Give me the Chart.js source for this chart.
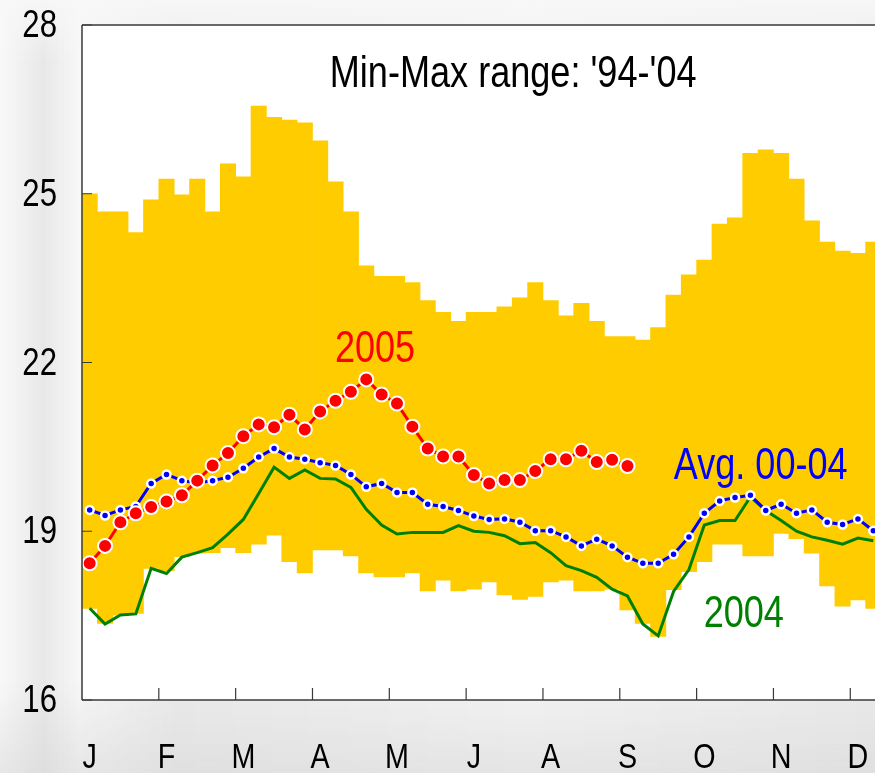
<!DOCTYPE html>
<html>
<head>
<meta charset="utf-8">
<script src="https://cdn.jsdelivr.net/npm/chart.js@4.4.1/dist/chart.umd.min.js"></script>
<style>
  html, body { margin: 0; padding: 0; overflow: hidden; width: 875px; height: 773px; }
  body {
    background-color: #ebebeb;
    background-image:
      linear-gradient(180deg, rgba(248,248,248,0.9) 0%, rgba(248,248,248,0) 8%, rgba(255,255,255,0) 88%, rgba(210,210,210,0.45) 100%),
      linear-gradient(90deg, rgba(255,255,255,0.7) 0%, rgba(225,225,225,0.3) 5%, rgba(255,255,255,0.6) 9%, rgba(240,240,240,0) 20%, rgba(255,255,255,0.45) 60%, rgba(235,235,235,0) 100%);
  }
  #wrap { position: absolute; left: 0; top: 0; width: 900px; height: 773px; }
</style>
</head>
<body>
<div id="wrap"><canvas id="c" width="900" height="773"></canvas></div>
<script>
// ---- data ----
const weeks = Array.from({length: 52}, (_, i) => 'W' + (i + 1));
const monthLabels = ['J', 'F', 'M', 'A', 'M', 'J', 'A', 'S', 'O', 'N', 'D'];
const yTicks = [16, 19, 22, 25, 28];

const rangeMin = [17.63, 17.36, 17.51, 17.54, 18.34, 18.30, 18.55, 18.61, 18.62, 18.71,
                  18.62, 18.77, 18.93, 18.46, 18.26, 18.67, 18.67, 18.56, 18.26, 18.19,
                  18.19, 18.26, 17.94, 18.13, 17.94, 17.97, 18.10, 17.87, 17.79, 17.84,
                  18.10, 18.13, 17.94, 17.94, 17.97, 17.60, 17.36, 17.13, 17.96, 18.28,
                  18.46, 18.77, 18.77, 18.56, 18.56, 18.96, 18.87, 18.61, 18.03, 17.67,
                  17.78, 17.63];
const rangeMax = [25.00, 24.68, 24.68, 24.31, 24.89, 25.26, 24.98, 25.26, 24.68, 25.53,
                  25.30, 26.56, 26.36, 26.31, 26.26, 25.94, 25.21, 24.68, 23.72, 23.53,
                  23.53, 23.42, 23.10, 22.89, 22.73, 22.89, 22.89, 22.99, 23.15, 23.42,
                  23.10, 22.83, 23.05, 22.73, 22.46, 22.46, 22.40, 22.62, 23.20, 23.56,
                  23.82, 24.46, 24.57, 25.72, 25.78, 25.72, 25.26, 24.52, 24.14, 23.98,
                  23.94, 24.14];
const avg0004 = [19.38, 19.28, 19.38, 19.44, 19.85, 20.01, 19.90, 19.86, 19.90, 19.96,
                 20.12, 20.32, 20.47, 20.32, 20.28, 20.22, 20.17, 20.01, 19.79, 19.85,
                 19.69, 19.69, 19.48, 19.44, 19.37, 19.27, 19.21, 19.22, 19.16, 19.01,
                 19.01, 18.90, 18.74, 18.86, 18.74, 18.54, 18.43, 18.43, 18.59, 18.90,
                 19.32, 19.54, 19.60, 19.64, 19.37, 19.48, 19.32, 19.38, 19.16, 19.12,
                 19.22, 19.01];
const y2005 = [18.43, 18.74, 19.16, 19.32, 19.43, 19.53, 19.64, 19.90, 20.17, 20.39,
               20.69, 20.90, 20.85, 21.07, 20.81, 21.13, 21.32, 21.48, 21.70, 21.43,
               21.27, 20.86, 20.47, 20.33, 20.33, 20.00, 19.85, 19.91, 19.91, 20.07,
               20.28, 20.28, 20.43, 20.23, 20.27, 20.16];
const y2004 = [17.63, 17.35, 17.51, 17.53, 18.34, 18.25, 18.54, 18.62, 18.71, 18.95,
               19.21, 19.67, 20.14, 19.94, 20.09, 19.94, 19.93, 19.78, 19.39, 19.11,
               18.95, 18.98, 18.98, 18.98, 19.10, 19.00, 18.98, 18.92, 18.78, 18.80,
               18.62, 18.39, 18.30, 18.18, 17.97, 17.85, 17.35, 17.14, 17.93, 18.32,
               19.11, 19.19, 19.19, 19.61, 19.37, 19.19, 19.00, 18.90, 18.84, 18.77,
               18.88, 18.83];

// text annotations: [text, category position, value (baseline), colour]
const notes = [
  ["Min-Max range: '94-'04", 27.56, 26.89, '#000000'],
  ['2005', 18.57, 22.01, '#ff0000'],
  ['Avg. 00-04', 43.67, 19.93, '#0000ff'],
  ['2004', 42.57, 17.30, '#008000']
];

const FONT = "'Liberation Sans', Arial, sans-serif";
const NARROW = 0.82;   // emulate a narrow (Arial Narrow-like) face
Chart.defaults.font.family = FONT;

const ranges = rangeMin.map((v, i) => [v, rangeMax[i]]);

function narrowText(ctx, text, x, y, align) {
  ctx.save();
  ctx.translate(x, y);
  ctx.scale(NARROW, 1);
  ctx.textAlign = align;
  ctx.textBaseline = 'alphabetic';
  ctx.fillText(text, 0, 0);
  ctx.restore();
}

const decor = {
  id: 'decor',
  beforeDraw(chart) {
    const {ctx, chartArea: a} = chart;
    ctx.save();
    ctx.fillStyle = '#ffffff';
    ctx.fillRect(a.left, a.top, chart.width - a.left, a.bottom - a.top);
    ctx.restore();
  },
  afterDatasetsDraw(chart) {
    const {ctx, chartArea: a, scales: {x, y}} = chart;
    ctx.save();
    ctx.strokeStyle = '#3a3a3a';
    ctx.lineWidth = 1.5;
    ctx.beginPath();
    ctx.moveTo(a.left, a.top); ctx.lineTo(chart.width, a.top);
    ctx.moveTo(a.left, a.top); ctx.lineTo(a.left, a.bottom);
    ctx.moveTo(a.left, a.bottom); ctx.lineTo(chart.width, a.bottom);
    ctx.stroke();
    ctx.lineWidth = 1.2;
    ctx.beginPath();
    for (let k = 1; k * 5 < weeks.length; k++) {
      const px = (x.getPixelForValue(k * 5 - 1) + x.getPixelForValue(k * 5)) / 2;
      ctx.moveTo(px, a.bottom); ctx.lineTo(px, a.bottom - 12);
    }
    yTicks.forEach(v => {
      const py = y.getPixelForValue(v);
      ctx.moveTo(a.left, py); ctx.lineTo(a.left + 10, py);
    });
    ctx.stroke();

    // tick labels
    ctx.fillStyle = '#000';
    ctx.font = '38px ' + FONT;
    yTicks.forEach(v => narrowText(ctx, String(v), a.left - 25, y.getPixelForValue(v) + 12, 'right'));
    ctx.font = '35px ' + FONT;
    monthLabels.forEach((m, k) => narrowText(ctx, m, x.getPixelForValue(k * 5), a.bottom + 68, 'center'));
    ctx.restore();
  },
  afterDraw(chart) {
    const {ctx, scales: {x, y}} = chart;
    const x0 = x.getPixelForValue(0), step = x.getPixelForValue(1) - x0;
    ctx.save();
    ctx.font = '44px ' + FONT;
    notes.forEach(([t, xi, yv, col]) => {
      ctx.fillStyle = col;
      narrowText(ctx, t, x0 + xi * step, y.getPixelForValue(yv), 'center');
    });
    ctx.restore();
  }
};

new Chart(document.getElementById('c'), {
  type: 'bar',
  data: {
    labels: weeks,
    datasets: [
      { type: 'line', label: '2005', data: y2005, borderColor: '#ff0000', borderWidth: 3,
        pointRadius: 7, pointBackgroundColor: '#ff0000', pointBorderColor: '#ffffff',
        pointBorderWidth: 2, tension: 0, order: 1 },
      { type: 'line', label: 'Avg. 00-04', data: avg0004, borderColor: '#0000ff', borderWidth: 3,
        pointRadius: 4, pointBackgroundColor: '#0000ff', pointBorderColor: '#ffffff',
        pointBorderWidth: 2.5, tension: 0, order: 2 },
      { type: 'line', label: '2004', data: y2004, borderColor: '#008000', borderWidth: 3,
        pointRadius: 0, tension: 0, order: 3 },
      { type: 'bar', label: "Min-Max '94-'04", data: ranges, backgroundColor: '#ffcc00',
        borderWidth: 0, barPercentage: 1, categoryPercentage: 1, order: 4 }
    ]
  },
  options: {
    responsive: false,
    animation: false,
    layout: { padding: { top: 25, right: 19, left: 0, bottom: 0 } },
    plugins: { legend: { display: false }, tooltip: { enabled: false }, title: { display: false } },
    scales: {
      x: {
        offset: true,
        grid: { display: false, drawTicks: false },
        border: { display: false },
        ticks: { display: false },
        afterFit: s => { s.height = 73; }
      },
      y: {
        min: 16, max: 28,
        grid: { display: false, drawTicks: false },
        border: { display: false },
        ticks: { display: false, stepSize: 3 },
        afterFit: s => { s.width = 82; }
      }
    }
  },
  plugins: [decor]
});
</script>
</body>
</html>
